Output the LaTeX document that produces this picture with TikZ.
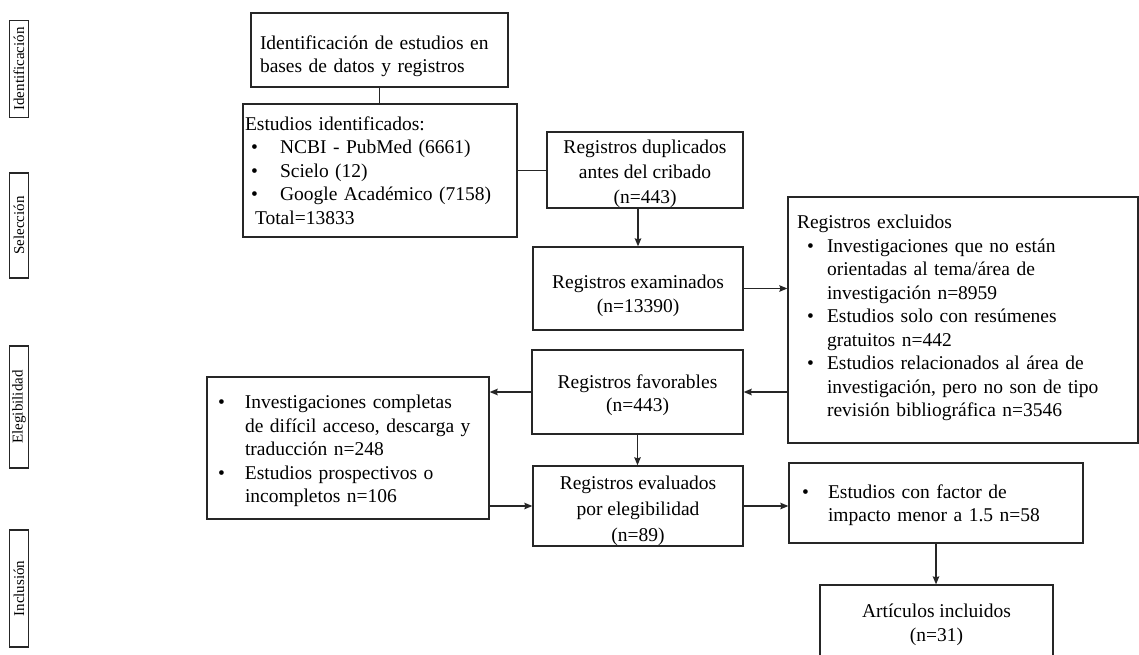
\documentclass[tikz,border=0pt]{standalone}
\usepackage{fontspec}
\setmainfont{Liberation Serif}
\usetikzlibrary{arrows.meta}
\newcommand{\bul}[2]{\hspace*{#1}\makebox[#2][l]{\textbullet}}
\newcommand{\topstrut}[1]{\rule{0pt}{#1}}
\begin{document}
\begin{tikzpicture}[x=1pt,y=-1pt,
  box/.style={draw=black!85, line width=1.3pt, inner sep=0pt, align=center,
    font=\fontsize{19.5}{23.5}\selectfont, text=black},
  side/.style={draw=black!85, line width=1.3pt, rotate=90, inner sep=0pt,
    minimum height=19pt, font=\fontsize{15}{17}\selectfont},
  ln/.style={draw=black!85, line width=1.3pt},
  arr/.style={ln, -{Stealth[length=8pt,width=6.5pt,inset=1pt]}}]
\useasboundingbox (0,0) rectangle (1139,655);
\clip (0,0) rectangle (1139,655);

% side labels
\node[side, minimum width=97pt]  (s1) at (19,69)    {Identificación};
\node[side, minimum width=105pt] (s2) at (19,225.5) {Selección};
\node[side, minimum width=122pt] (s3) at (19,407)   {Elegibilidad};
\node[side, minimum width=117pt] (s4) at (19,588.5) {Inclusión};

% boxes
\node[box, align=left, text width=239pt, inner xsep=9pt, minimum height=74pt] (A) at (379.5,50)
  {\topstrut{26pt}Identificación de estudios en\\bases de datos y registros};

\node[box, align=left, text width=270pt, inner xsep=2pt, minimum height=133pt] (B) at (380,170.5)
  {Estudios identificados:\\
   \bul{6pt}{29pt}NCBI - PubMed (6661)\\
   \bul{6pt}{29pt}Scielo (12)\\
   \bul{6pt}{29pt}Google Académico (7158)\\
   \hspace*{10pt}Total=13833};

\node[box, minimum width=196pt, minimum height=74pt, font=\fontsize{19.5}{25}\selectfont] (C) at (645,170)
  {\topstrut{22pt}Registros duplicados\\antes del cribado\\(n=443)};

\node[box, minimum width=210pt, minimum height=83pt] (E) at (638,288.5)
  {\topstrut{28pt}Registros examinados\\(n=13390)};

\node[box, align=left, text width=332pt, inner xsep=9pt, minimum height=246pt] (D) at (963,320)
  {Registros excluidos\\
   \bul{10pt}{20pt}Investigaciones que no están\\
   \hspace*{30pt}orientadas al tema/área de\\
   \hspace*{30pt}investigación n=8959\\
   \bul{10pt}{20pt}Estudios solo con resúmenes\\
   \hspace*{30pt}gratuitos n=442\\
   \bul{10pt}{20pt}Estudios relacionados al área de\\
   \hspace*{30pt}investigación, pero no son de tipo\\
   \hspace*{30pt}revisión bibliográfica n=3546\par\vspace*{4pt}};

\node[box, minimum width=211pt, minimum height=84pt] (F) at (637.5,392)
  {\topstrut{20pt}Registros favorables\\(n=443)};

\node[box, align=left, text width=282pt, minimum height=142pt] (G) at (348,448)
  {\topstrut{20pt}\bul{11pt}{27pt}Investigaciones completas\\
   \hspace*{38pt}de difícil acceso, descarga y\\
   \hspace*{38pt}traducción n=248\\
   \bul{11pt}{27pt}Estudios prospectivos o\\
   \hspace*{38pt}incompletos n=106};

\node[box, minimum width=210pt, minimum height=74pt, font=\fontsize{19.5}{26}\selectfont] (H) at (638,506)
  {\topstrut{24pt}Registros evaluados\\por elegibilidad\\(n=89)};

\node[box, align=left, text width=294pt, minimum height=80pt] (I) at (936,503)
  {\topstrut{18pt}\bul{13pt}{26pt}Estudios con factor de\\
   \hspace*{39pt}impacto menor a 1.5 n=58};

\node[box, minimum width=233pt, minimum height=74pt] (J) at (936.5,622)
  {\topstrut{19pt}Artículos incluidos\\(n=31)};

% connectors
\draw[ln] (A.south) -- (A.south |- B.north);
\draw[ln] (B.east) -- (B.east -| C.west);
\draw[arr] (C.south -| E.north) -- (E.north);
\draw[arr] (E.east) -- (E.east -| D.west);
\draw[arr] (D.west |- F.east) -- (F.east);
\draw[arr] (F.west) -- (F.west -| G.east);
\draw[arr] (F.south) -- (F.south |- H.north);
\draw[arr] (G.east |- H.west) -- (H.west);
\draw[arr] (H.east) -- (H.east -| I.west);
\draw[arr] (I.south) -- (I.south |- J.north);
\end{tikzpicture}
\end{document}
